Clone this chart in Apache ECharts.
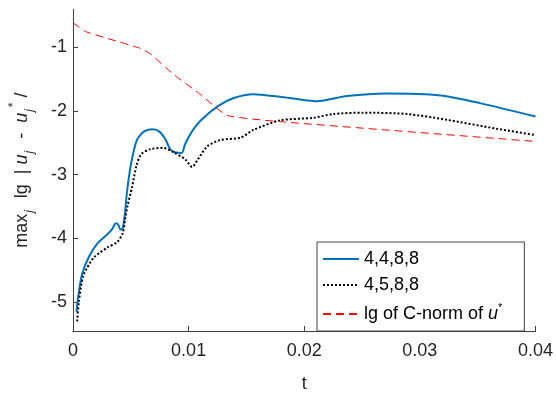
<!DOCTYPE html>
<html>
<head>
<meta charset="utf-8">
<script src="https://cdn.jsdelivr.net/npm/echarts@6/dist/echarts.min.js"></script>
<style>
  html, body { margin: 0; padding: 0; background: #fff; }
  #chart { width: 556px; height: 398px; }
</style>
</head>
<body>
<div id="chart"></div>
<script>
// series 4,4,8,8 (blue solid)
var tBlue = [0.0003, 0.0005, 0.0008, 0.0014, 0.0021, 0.003, 0.0034, 0.0037, 0.0039, 0.0041, 0.0043, 0.0045, 0.00465,
    0.005, 0.0055, 0.0061, 0.0069, 0.0075, 0.008, 0.0084, 0.0088, 0.0094, 0.0097, 0.0102, 0.011, 0.0125, 0.0139,
    0.0156, 0.0179, 0.0195, 0.0211, 0.0237, 0.0271, 0.0318, 0.0352, 0.04];
var vBlue = [-5.15, -4.85, -4.55, -4.28, -4.08, -3.93, -3.85, -3.76, -3.78, -3.86, -3.84, -3.6, -3.3,
    -2.85, -2.47, -2.33, -2.29, -2.33, -2.45, -2.6, -2.65, -2.66, -2.52, -2.35, -2.16, -1.93, -1.8,
    -1.74, -1.78, -1.82, -1.85, -1.77, -1.73, -1.76, -1.88, -2.09];

// series 4,5,8,8 (black dotted)
var tBlack = [0.00036, 0.0005, 0.0009, 0.0018, 0.003, 0.0038, 0.0043, 0.0045, 0.0047, 0.0051, 0.0055, 0.0059,
    0.0067, 0.0078, 0.0087, 0.0097, 0.0103, 0.0108, 0.0116, 0.0127, 0.0145, 0.0156, 0.0179, 0.0208, 0.0225,
    0.0251, 0.0289, 0.0323, 0.0366, 0.04];
var vBlack = [-5.3, -5.0, -4.58, -4.3, -4.14, -4.06, -3.92, -3.7, -3.5, -3.2, -2.85, -2.68,
    -2.6, -2.58, -2.65, -2.76, -2.88, -2.76, -2.56, -2.46, -2.42, -2.3, -2.15, -2.11, -2.05,
    -2.03, -2.05, -2.14, -2.28, -2.38];

// lg of C-norm of u* (red dashed)
var tRed = [0, 0.0011, 0.0058, 0.0067, 0.0087, 0.011, 0.0133, 0.0179, 0.04];
var vRed = [-0.62, -0.76, -1.02, -1.11, -1.43, -1.74, -2.07, -2.17, -2.48];

var seriesNames = ['4,4,8,8', '4,5,8,8', 'lg of C-norm of u*'];
var xTicks = [0, 0.01, 0.02, 0.03, 0.04];
var yTicks = [-5, -4, -3, -2, -1];

function pairs(t, v) {
    return t.map(function (x, i) { return [x, v[i]]; });
}

var txt = '#262626';
var axisCol = '#404040';
var font = 'Liberation Sans';

var chart = echarts.init(document.getElementById('chart'));
chart.setOption({
    animation: false,
    textStyle: { fontFamily: font },
    grid: { left: 72.5, right: 20.5, top: 9.3, bottom: 56 },
    legend: {
        orient: 'vertical',
        left: 317,
        top: 242,
        padding: [8, 22, 8, 5],
        itemGap: 8,
        itemWidth: 36,
        itemHeight: 16,
        backgroundColor: '#fff',
        borderColor: axisCol,
        borderWidth: 1,
        borderRadius: 0,
        itemStyle: { opacity: 0 },
        data: seriesNames,
        formatter: function (name) {
            if (name === seriesNames[2]) return '{t|lg of C-norm of }{i|u}{p|*}';
            return '{t|' + name + '}';
        },
        textStyle: {
            color: '#000',
            fontSize: 18,
            rich: {
                t: { fontSize: 18, fontFamily: font, color: '#000', lineHeight: 24 },
                i: { fontSize: 18, fontFamily: font, fontStyle: 'italic', color: '#000', lineHeight: 24 },
                p: { fontSize: 11, fontFamily: font, color: '#000', verticalAlign: 'top', lineHeight: 11 }
            }
        }
    },
    xAxis: {
        type: 'value',
        min: 0,
        max: 0.04,
        interval: 0.01,
        name: 't',
        nameLocation: 'middle',
        nameGap: 44,
        nameTextStyle: { color: txt, fontSize: 18 },
        axisLine: { show: true, onZero: false, lineStyle: { color: axisCol, width: 1 } },
        axisTick: { show: true, inside: true, length: 5, lineStyle: { color: axisCol } },
        axisLabel: {
            color: txt, fontSize: 18, margin: 11,
            customValues: xTicks,
            formatter: function (v) { return v === 0 ? '0' : String(+v.toFixed(2)); }
        },
        splitLine: { show: false }
    },
    yAxis: {
        type: 'value',
        min: -5.45,
        max: -0.41,
        name: '{t|max}{s|j}{t|  lg  |}{i| u}{s|j}{t|  -  }{i|u}{s|j}{p|*}{t| /}',
        nameLocation: 'middle',
        nameGap: 37,
        nameTextStyle: {
            color: txt,
            rich: {
                t: { fontSize: 18, fontFamily: font, color: txt, lineHeight: 28 },
                i: { fontSize: 18, fontFamily: font, fontStyle: 'italic', color: txt, lineHeight: 28 },
                s: { fontSize: 12, fontFamily: font, fontStyle: 'italic', color: txt, verticalAlign: 'bottom', lineHeight: 12, padding: [0, 2, 0, 1] },
                p: { fontSize: 12, fontFamily: font, color: txt, verticalAlign: 'top', lineHeight: 12 }
            }
        },
        axisLine: { show: true, onZero: false, lineStyle: { color: axisCol, width: 1 } },
        axisTick: { show: true, inside: true, length: 5, customValues: yTicks, lineStyle: { color: axisCol } },
        axisLabel: {
            color: txt, fontSize: 18, margin: 6,
            customValues: yTicks,
            formatter: function (v) { return String(v); }
        },
        splitLine: { show: false }
    },
    series: [
        {
            name: seriesNames[0],
            type: 'line',
            data: pairs(tBlue, vBlue),
            smooth: 0.25,
            symbol: 'none',
            lineStyle: { color: '#0072BD', width: 2 },
            itemStyle: { color: '#0072BD' }
        },
        {
            name: seriesNames[1],
            type: 'line',
            data: pairs(tBlack, vBlack),
            smooth: 0.25,
            symbol: 'none',
            lineStyle: { color: '#000', width: 2, type: [2, 2] },
            itemStyle: { color: '#000' }
        },
        {
            name: seriesNames[2],
            type: 'line',
            data: pairs(tRed, vRed),
            smooth: 0.15,
            symbol: 'none',
            lineStyle: { color: '#ff0000', width: 1, type: [8, 5] },
            itemStyle: { color: '#ff0000' }
        }
    ]
});
</script>
</body>
</html>
